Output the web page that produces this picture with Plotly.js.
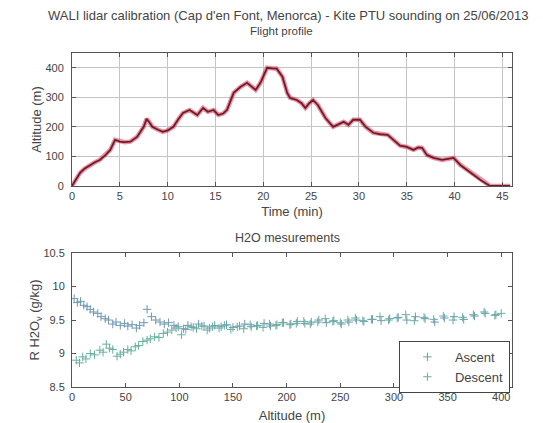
<!DOCTYPE html>
<html>
<head>
<meta charset="utf-8">
<script src="https://cdn.plot.ly/plotly-3.0.1.min.js"></script>
<style>html,body{margin:0;padding:0;background:#fff;}#chart{width:543px;height:423px;}</style>
</head>
<body>
<div id="chart"></div>
<script>
// Flight profile
const flightTime = [0,0.4,0.84,1.3,1.9,2.4,2.9,3.5,4.0,4.5,5.0,5.5,6.1,6.8,7.5,7.8,8.1,8.4,9.0,9.5,10.0,10.6,11.1,11.6,12.3,13.1,13.7,14.2,14.8,15.3,15.8,16.2,16.9,17.6,18.3,18.8,19.2,19.7,20.4,20.9,21.4,22.0,22.5,22.8,23.5,24.0,24.4,24.8,25.2,25.7,26.1,26.5,27.3,27.8,28.4,28.9,29.4,30.1,30.7,31.5,32.2,33.0,33.6,34.3,35.0,35.7,36.2,36.6,37.1,37.8,38.7,39.3,39.9,40.6,41.6,42.7,43.7,44.5,45.0,45.8];
const flightAlt = [0,22,44,58,71,80,88,104,122,156,150,148,150,166,200,227,215,200,190,183,188,200,225,247,257,240,264,251,257,240,245,257,315,335,349,335,325,349,400,398,397,370,315,298,291,280,264,280,291,274,250,230,200,207,217,207,224,224,200,180,175,173,156,136,132,122,130,129,105,95,88,92,95,71,47,20,0,0,0,0];

// H2O measurements
const ascentAlt = [2,5,8,11,14,17,20,24,27,31,34,38,41,45,49,52,56,60,63,67,70,74,78,82,86,90,95,99,104,108,113,118,123,128,133,139,144,150,156,161,167,173,179,185,191,197,204,210,217,223,230,237,244,251,258,265,272,280,288,296,304,312,320,329,338,347,356,365,375,385,395];
const ascentH2O = [9.82,9.76,9.78,9.72,9.7,9.66,9.62,9.6,9.55,9.52,9.5,9.44,9.47,9.42,9.45,9.41,9.43,9.38,9.42,9.46,9.66,9.55,9.5,9.47,9.44,9.46,9.42,9.4,9.37,9.42,9.39,9.44,9.41,9.38,9.42,9.4,9.43,9.39,9.41,9.44,9.4,9.42,9.45,9.41,9.43,9.46,9.44,9.48,9.45,9.47,9.5,9.46,9.49,9.44,9.47,9.5,9.48,9.51,9.49,9.52,9.54,9.5,9.55,9.52,9.47,9.53,9.55,9.51,9.56,9.6,9.58];
const descentAlt = [4,7,10,13,17,21,26,29,32,35,38,42,45,48,52,55,59,62,66,70,73,77,81,85,89,93,97,102,106,111,116,121,126,131,137,142,148,154,160,166,172,178,184,190,196,203,209,216,222,229,236,243,250,257,264,271,279,287,295,303,311,319,328,337,346,355,364,374,384,394,400];
const descentH2O = [8.9,8.86,8.95,8.92,9.0,8.98,9.05,9.02,9.14,9.08,9.06,8.96,8.99,9.02,9.06,9.04,9.1,9.12,9.18,9.2,9.22,9.25,9.24,9.3,9.32,9.35,9.38,9.28,9.36,9.4,9.37,9.41,9.35,9.4,9.38,9.42,9.36,9.4,9.37,9.43,9.41,9.39,9.44,9.42,9.46,9.43,9.45,9.48,9.44,9.47,9.52,9.48,9.46,9.5,9.53,9.49,9.51,9.55,9.5,9.53,9.58,9.49,9.54,9.51,9.56,9.5,9.54,9.58,9.62,9.57,9.6];

const topTicks = [0,5,10,15,20,25,30,35,40,45];
const topYTicks = [0,100,200,300,400];
const botXTicks = [0,50,100,150,200,250,300,350,400];
const botYTicks = [8.5,9,9.5,10,10.5];
const botYLabels = ['8.5','9','9.5','10','10.5'];

const fam = 'Liberation Sans, Arial, sans-serif';
const tickFont = {family: fam, size: 11, color: '#444'};
const titleFont = {family: fam, size: 13, color: '#444'};

const traces = [
  {x: flightTime, y: flightAlt, type: 'scatter', mode: 'lines', xaxis: 'x', yaxis: 'y',
   line: {color: 'rgba(225,50,80,0.55)', width: 4.5}, showlegend: false, hoverinfo: 'skip'},
  {x: flightTime, y: flightAlt, type: 'scatter', mode: 'lines', xaxis: 'x', yaxis: 'y',
   line: {color: '#6a1e2c', width: 1.8}, showlegend: false},
  {x: ascentAlt, y: ascentH2O, type: 'scatter', mode: 'markers', name: 'Ascent', xaxis: 'x2', yaxis: 'y2',
   marker: {symbol: 'cross-thin-open', size: 6, color: '#6f98b0', line: {color: '#6f98b0', width: 1}}},
  {x: descentAlt, y: descentH2O, type: 'scatter', mode: 'markers', name: 'Descent', xaxis: 'x2', yaxis: 'y2',
   marker: {symbol: 'cross-thin-open', size: 6, color: '#68b0a0', line: {color: '#68b0a0', width: 1}}}
];

const axCommon = {showline: true, mirror: 'ticks', linecolor: '#555', linewidth: 1, ticks: 'inside', ticklen: 4,
  tickcolor: '#555', zeroline: false, tickfont: tickFont};

const layout = {
  width: 543, height: 423,
  margin: {l: 72, r: 31, t: 53, b: 36},
  paper_bgcolor: '#fff', plot_bgcolor: '#fff',
  font: tickFont,
  showlegend: true,
  legend: {x: 0.743, y: 0.138, xanchor: 'left', yanchor: 'top', bordercolor: '#444', borderwidth: 1,
    bgcolor: '#fff', font: {family: fam, size: 13, color: '#444'}, itemwidth: 45, tracegroupgap: 0},
  xaxis: Object.assign({}, axCommon, {domain: [0, 1], anchor: 'y', range: [0, 46], tickvals: topTicks,
    showgrid: true, gridcolor: '#c4c4c4', gridwidth: 1,
    title: {text: 'Time (min)', font: titleFont, standoff: 5}}),
  yaxis: Object.assign({}, axCommon, {domain: [0.602, 1], anchor: 'x', range: [0, 450], tickvals: topYTicks,
    showgrid: true, gridcolor: '#c4c4c4', gridwidth: 1, ticklabelstandoff: 5,
    title: {text: 'Altitude (m)', font: titleFont, standoff: 0}}),
  xaxis2: Object.assign({}, axCommon, {domain: [0, 1], anchor: 'y2', range: [0, 410], tickvals: botXTicks,
    showgrid: false, title: {text: 'Altitude (m)', font: titleFont, standoff: 9}}),
  yaxis2: Object.assign({}, axCommon, {domain: [0, 0.401], anchor: 'x2', range: [8.5, 10.5], tickvals: botYTicks,
    ticktext: botYLabels, showgrid: false, ticklabelstandoff: 4,
    title: {text: 'R H2O<sub>v</sub> (g/kg)', font: titleFont, standoff: 0}}),
  annotations: [
    {text: "WALI lidar calibration (Cap d'en Font, Menorca) - Kite PTU sounding on 25/06/2013",
     xref: 'paper', yref: 'paper', x: 0.49, y: 1, yshift: 38, xanchor: 'center', yanchor: 'middle',
     showarrow: false, font: {family: fam, size: 13, color: '#444'}},
    {text: 'Flight profile', xref: 'paper', yref: 'paper', x: 0.475, y: 1, yshift: 22, xanchor: 'center',
     yanchor: 'middle', showarrow: false, font: {family: fam, size: 11.5, color: '#444'}},
    {text: 'H2O mesurements', xref: 'paper', yref: 'paper', x: 0.49, y: 0.401, yshift: 15, xanchor: 'center',
     yanchor: 'middle', showarrow: false, font: {family: fam, size: 12.5, color: '#444'}}
  ]
};

Plotly.newPlot('chart', traces, layout, {displayModeBar: false, staticPlot: true});
</script>
</body>
</html>
